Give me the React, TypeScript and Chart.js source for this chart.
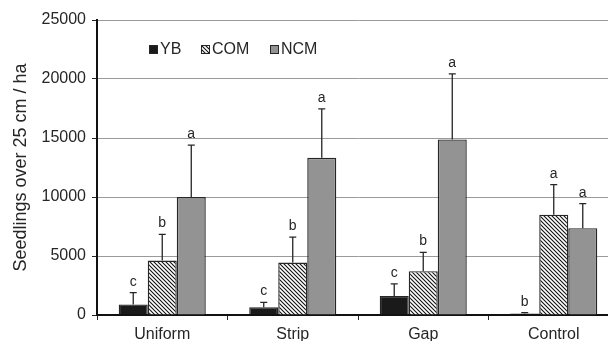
import React, { useEffect, useRef } from "react";
import { Chart, registerables } from "chart.js";
Chart.register(...registerables);

const categories = ["Uniform", "Strip", "Gap", "Control"];
const seriesNames = ["YB", "COM", "NCM"];
const ybValues = [900, 650, 1620, 120];
const comValues = [4620, 4450, 3710, 8500];
const ncmValues = [10000, 13320, 14880, 7360];
const ybErrTop = [1900, 1070, 2640, 200];
const comErrTop = [6830, 6600, 5300, 11050];
const ncmErrTop = [14400, 17460, 20430, 9440];
const ybLetters = ["c", "c", "c", "b"];
const comLetters = ["b", "b", "b", "a"];
const ncmLetters = ["a", "a", "a", "a"];
const yTickValues = [0, 5000, 10000, 15000, 20000, 25000];
const yTitle = "Seedlings over 25 cm / ha";

const FONT = "'Liberation Sans', Arial, sans-serif";
const INK = "#262626";

function makeHatch(): CanvasPattern | string {
  const c = document.createElement("canvas");
  c.width = 4;
  c.height = 4;
  const g = c.getContext("2d");
  if (!g) return "#fff";
  g.fillStyle = "#fff";
  g.fillRect(0, 0, 4, 4);
  g.strokeStyle = "#111";
  g.lineWidth = 1.1;
  g.beginPath();
  g.moveTo(-1, -1);
  g.lineTo(5, 5);
  g.moveTo(-1, 3);
  g.lineTo(1, 5);
  g.moveTo(3, -1);
  g.lineTo(5, 1);
  g.stroke();
  const p = g.createPattern(c, "repeat");
  return p || "#fff";
}

export default function App() {
  const ref = useRef<HTMLCanvasElement>(null);
  useEffect(() => {
    const canvas = ref.current;
    if (!canvas) return;
    const hatch = makeHatch();
    const fills: any[] = ["#1a1a1a", hatch, "#939393"];
    const values = [ybValues, comValues, ncmValues];
    const errs = [ybErrTop, comErrTop, ncmErrTop];
    const letters = [ybLetters, comLetters, ncmLetters];

    const overlay = {
      id: "overlay",
      afterDatasetsDraw(chart: any) {
        const ctx = chart.ctx;
        const y = chart.scales.y;
        ctx.save();
        for (let d = 0; d < 3; d++) {
          const meta = chart.getDatasetMeta(d);
          meta.data.forEach((bar: any, i: number) => {
            const x = bar.x;
            const top = y.getPixelForValue(values[d][i]);
            const et = y.getPixelForValue(errs[d][i]);
            ctx.strokeStyle = INK;
            ctx.lineWidth = 1.3;
            ctx.beginPath();
            ctx.moveTo(x, top);
            ctx.lineTo(x, et);
            ctx.moveTo(x - 3.5, et);
            ctx.lineTo(x + 3.5, et);
            ctx.stroke();
            ctx.fillStyle = INK;
            ctx.font = `14px ${FONT}`;
            ctx.textAlign = "center";
            ctx.textBaseline = "alphabetic";
            ctx.fillText(letters[d][i], x, et - 7);
          });
        }
        // legend
        const lx = [149, 201, 270];
        const ly = 45;
        ctx.font = `16px ${FONT}`;
        ctx.textAlign = "left";
        ctx.textBaseline = "middle";
        for (let d = 0; d < 3; d++) {
          ctx.fillStyle = fills[d];
          ctx.fillRect(lx[d], ly, 9, 9);
          ctx.strokeStyle = INK;
          ctx.lineWidth = 1;
          ctx.strokeRect(lx[d] + 0.5, ly + 0.5, 8, 8);
          ctx.fillStyle = INK;
          ctx.fillText(seriesNames[d], lx[d] + 11, ly + 5);
        }
        ctx.restore();
      },
    };

    const chart = new Chart(canvas, {
      type: "bar",
      data: {
        labels: categories,
        datasets: seriesNames.map((name, d) => ({
          label: name,
          data: values[d],
          backgroundColor: fills[d],
          borderColor: INK,
          borderWidth: 1.4,
          barPercentage: 1,
          categoryPercentage: 0.667,
        })),
      },
      options: {
        responsive: false,
        animation: false,
        layout: { padding: { top: 20, right: 0, left: 0, bottom: 0 } },
        plugins: { legend: { display: false }, tooltip: { enabled: false } },
        scales: {
          x: {
            grid: {
              offset: true,
              drawOnChartArea: false,
              drawTicks: true,
              tickLength: 5,
              color: INK,
              tickColor: INK,
            },
            border: { color: "#111", width: 2 },
            ticks: { font: { family: FONT, size: 16 }, color: INK, padding: 5 },
            afterFit(scale: any) {
              scale.height = 26;
            },
          },
          y: {
            min: 0,
            max: 25000,
            afterBuildTicks(scale: any) {
              scale.ticks = yTickValues.map((v) => ({ value: v }));
            },
            ticks: {
              font: { family: FONT, size: 16 },
              color: INK,
              padding: 6,
              callback: (v: any) => String(v),
            },
            grid: { color: "#9a9a9a", lineWidth: 1, tickLength: 5, tickColor: INK },
            border: { color: "#111", width: 2 },
            title: {
              display: true,
              text: yTitle,
              font: { family: FONT, size: 18 },
              color: INK,
              padding: { top: 10, bottom: 0 },
            },
            afterFit(scale: any) {
              scale.width = 97;
            },
          },
        },
      },
      plugins: [overlay],
    } as any);
    return () => chart.destroy();
  }, []);

  return (
    <div
      style={{
        position: "fixed",
        left: 0,
        top: 0,
        width: 608,
        height: 341,
        overflow: "hidden",
        background: "#fff",
      }}
    >
      <canvas ref={ref} width={619} height={341} style={{ display: "block" }} />
    </div>
  );
}
